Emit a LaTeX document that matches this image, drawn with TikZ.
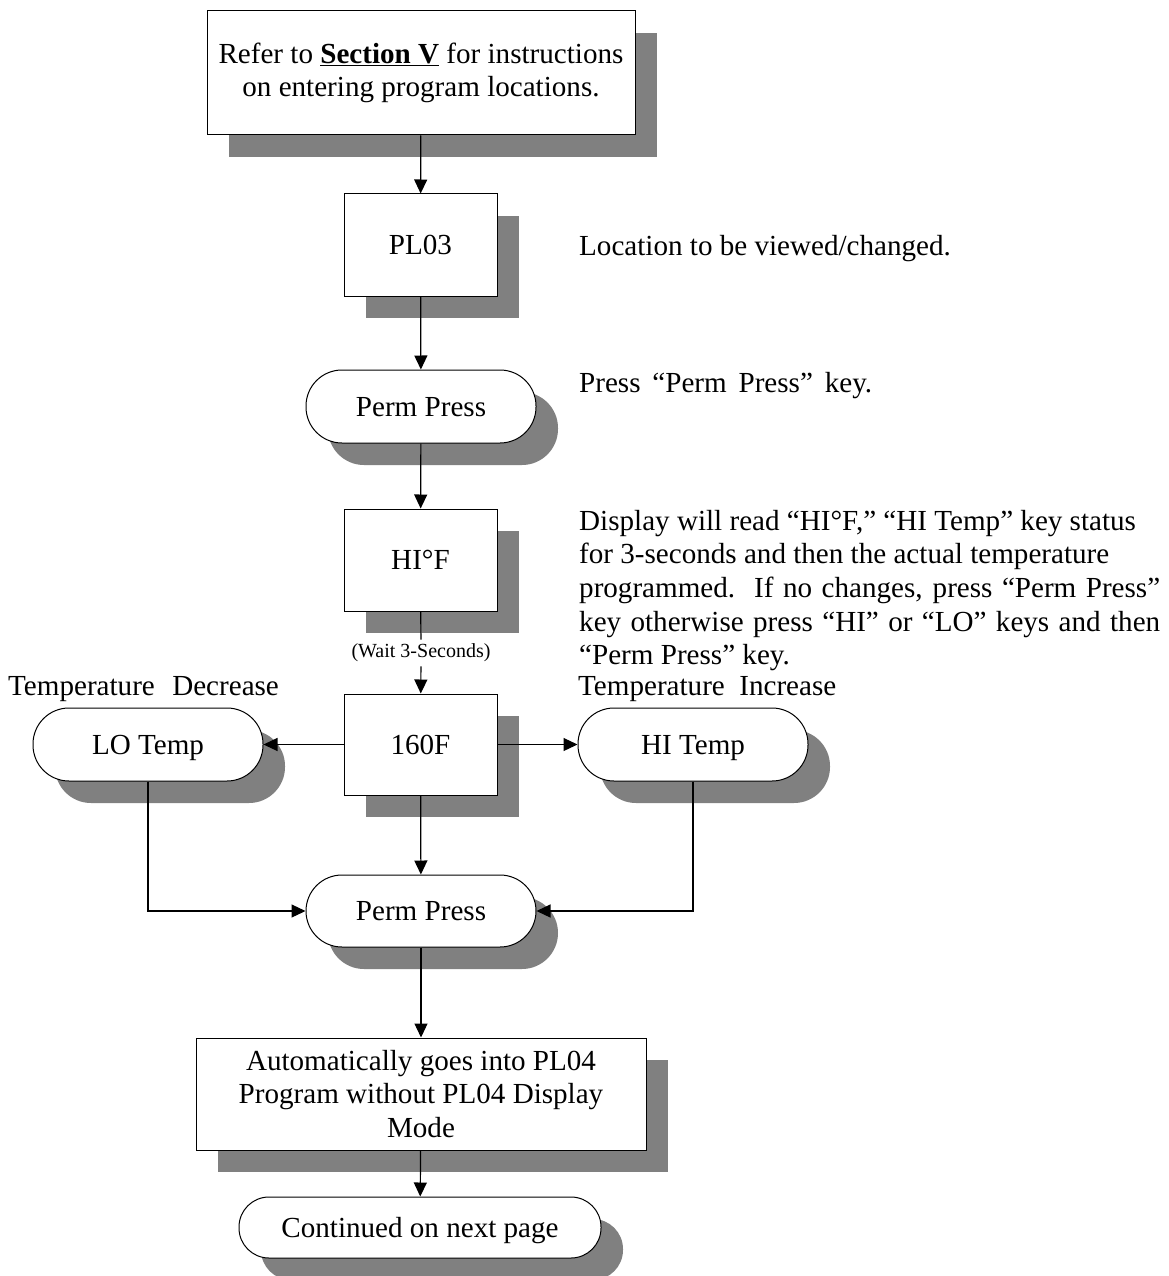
\documentclass[tikz,border=0pt]{standalone}
\usepackage{fontspec}
\setmainfont{Liberation Serif}
\usetikzlibrary{arrows.meta,shadows}
\begin{document}
\begin{tikzpicture}[x=1pt,y=-1pt,
  every node/.style={font=\fontsize{29.1}{33.7}\selectfont},
  box/.style={draw=black, line width=1pt, fill=white, inner sep=0pt, align=center,
    drop shadow={shadow xshift=22pt, shadow yshift=-22pt, fill=black!50, opacity=1}},
  oneline/.style={text height=19pt, text depth=0pt},
  stadium/.style={box, oneline, rounded corners=36pt},
  conn/.style={line width=1.2pt, -{Triangle[length=14pt,width=13pt]}},
  wire/.style={line width=1.2pt},
  note/.style={anchor=base west, inner sep=0pt}]
\clip (0,0) rectangle (1168,1276);
\fill[white] (0,0) rectangle (1168,1276);
% boxes
\node[box, minimum width=428pt, minimum height=124pt] (top) at (421,73)
  {Refer to \underline{\textbf{Section V}} for instructions\\on entering program locations.};
\node[box, oneline, minimum width=153pt, minimum height=102pt] (pl) at (420.5,245) {PL03};
\node[stadium, minimum width=230pt, minimum height=73pt] (pp1) at (421,406.5) {Perm Press};
\node[box, oneline, minimum width=153pt, minimum height=102pt] (hif) at (420.5,560) {HI°F};
\node[box, oneline, minimum width=153pt, minimum height=101pt] (t160) at (420.5,744.5) {160F};
\node[stadium, minimum width=230pt, minimum height=73pt] (lo) at (148,744.5) {LO Temp};
\node[stadium, minimum width=230pt, minimum height=73pt] (hi) at (693,744.5) {HI Temp};
\node[stadium, minimum width=230pt, minimum height=72pt] (pp2) at (421,911) {Perm Press};
\node[box, minimum width=450pt, minimum height=112pt] (auto) at (421,1094)
  {Automatically goes into PL04\\Program without PL04 Display\\Mode};
\node[stadium, rounded corners=30pt, minimum width=362pt, minimum height=61pt] (cont) at (420,1227.5)
  {Continued on next page};
\node[font=\fontsize{20}{24}\selectfont, inner sep=4pt] (wait) at (421,653) {(Wait 3-Seconds)};
% notes
\node[note] (n1) at (579,255) {Location to be viewed/changed.};
\node[note] (n2) at (579,392) {\makebox[293pt][s]{Press “Perm Press” key.}};
\node[note] (n3a) at (579,530) {Display will read “HI°F,” “HI Temp” key status};
\node[note] (n3b) at (579,563.7) {for 3-seconds and then the actual temperature};
\node[note] (n3c) at (579,597.4) {\makebox[581pt][s]{programmed.\ \ If no changes, press “Perm Press”}};
\node[note] (n3d) at (579,631.1) {\makebox[581pt][s]{key otherwise press “HI” or “LO” keys and then}};
\node[note] (n3e) at (579,664.8) {“Perm Press” key.};
\node[note] (td) at (8,695) {Temperature\hspace{0.6em}Decrease};
\node[note] (ti) at (578,695) {Temperature\hspace{0.5em}Increase};
% connectors
\draw[conn] (top) -- (pl);
\draw[conn] (pl) -- (pp1);
\draw[conn] (pp1) -- (hif);
\draw[wire] (hif) -- (wait);
\draw[conn] (wait) -- (t160);
\draw[conn] (t160) -- (lo);
\draw[conn] (t160) -- (hi);
\draw[conn] (t160) -- (pp2);
\draw[conn] (lo.south) |- (pp2.west);
\draw[conn] (hi.south) |- (pp2.east);
\draw[conn] (pp2) -- (auto);
\draw[conn] (auto) -- (cont);
\end{tikzpicture}
\end{document}
